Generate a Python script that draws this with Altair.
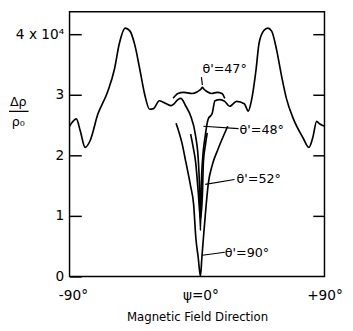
import altair as alt
import pandas as pd

# theta'=48 curve: full sweep -90..+90 that dips sharply at psi=0
c48_psi = [-92.4, -87.6, -84.8, -81.4, -77.9, -72.4, -65.5, -60.7, -57.2, -53.1, -49.7, -46.2,
           -42.8, -39.3, -35.9, -33.1, -29.0, -24.1, -20.7, -18.6, -15.9, -13.8, -10.3, -6.9,
           -3.4, -1.4, -0.7, 0.0, 0.7, 1.4, 3.4, 5.5, 8.3, 10.3, 13.8, 17.2, 20.7, 25.5, 31.0,
           33.8, 35.9, 39.3, 41.4, 44.8, 47.6, 50.3, 53.8, 57.2, 60.7, 65.5, 72.4, 76.6, 79.3,
           82.1, 84.1, 87.6]
c48_val = [2.48, 2.60, 2.40, 2.13, 2.24, 2.68, 3.05, 3.42, 3.85, 4.10, 4.05, 3.81,
           3.42, 3.00, 2.76, 2.77, 2.90, 2.85, 2.82, 2.85, 2.92, 2.94, 2.81, 2.65,
           2.32, 1.89, 1.52, 0.76, 1.56, 1.89, 2.32, 2.60, 2.69, 2.90, 2.92, 2.89, 2.81, 2.89, 2.85,
           2.73, 2.89, 3.42, 3.85, 4.06, 4.10, 4.05, 3.74, 3.32, 2.94, 2.61, 2.29, 2.13, 2.29,
           2.56, 2.52, 2.48]

# theta'=47 centre section (no dip, small cusp)
c47_psi = [-19.3, -15.9, -12.0, -9.0, -6.0, -2.1, 0.3, 1.4, 2.5, 4.8, 8.0, 11.7, 15.2, 17.2]
c47_val = [2.94, 3.02, 3.04, 3.03, 3.02, 3.05, 3.09, 3.12, 3.09, 3.05, 3.02, 3.04, 3.02, 2.94]

# theta'=52 centre section
c52_psi = [-6.9, -5.0, -3.4, -1.4, 0.0, 1.4, 2.1, 3.4, 4.8]
c52_val = [2.35, 2.12, 1.89, 1.35, 0.95, 1.35, 1.89, 2.15, 2.37]

# theta'=90 centre section (goes to zero)
c90_psi = [-17.2, -13.0, -10.3, -7.0, -4.8, -3.2, -1.5, 0.0, 1.0, 2.1, 3.4, 5.5, 8.5, 12.4, 19.3]
c90_val = [2.53, 2.20, 1.89, 1.50, 1.19, 0.63, 0.30, 0.00, 0.30, 0.63, 1.00, 1.52, 1.85, 2.10, 2.48]

# annotation labels and their leader lines
ann_text = ["θ'=47°", "θ'=48°", "θ'=52°", "θ'=90°"]
ann_psi = [1.4, 27.6, 25.5, 17.2]
ann_val = [3.42, 2.42, 1.60, 0.39]
lead_psi1 = [0.7, 2.1, 3.4, 1.4]
lead_val1 = [3.29, 2.48, 1.52, 0.35]
lead_psi2 = [1.4, 26.9, 24.1, 17.2]
lead_val2 = [3.16, 2.44, 1.60, 0.40]

y_ticks = [0, 1, 2, 3, 4]
x_ticks = [-90, 0, 87.6]   # right label sits at the frame edge

rows = []
for name, xs, ys in [("48", c48_psi, c48_val), ("47", c47_psi, c47_val),
                     ("52", c52_psi, c52_val), ("90", c90_psi, c90_val)]:
    for i, (a, b) in enumerate(zip(xs, ys)):
        rows.append({"series": name, "psi": a, "val": b, "i": i})
curves = pd.DataFrame(rows)

ann = pd.DataFrame({"text": ann_text, "psi": ann_psi, "val": ann_val})
leads = pd.DataFrame({"x1": lead_psi1, "y1": lead_val1, "x2": lead_psi2, "y2": lead_val2})

FONT = "DejaVu Sans"
xscale = alt.Scale(domain=[-92.4, 87.6], nice=False, zero=False)
yscale = alt.Scale(domain=[0, 4.37], nice=False, zero=False)

xaxis = alt.Axis(
    values=x_ticks,
    labelExpr="datum.value == 0 ? 'ψ=0°' : (datum.value < 0 ? '-90°' : '+90°')",
    ticks=False, domain=False, grid=False, labelFlush=False, labelOverlap=False,
    labelPadding=13, labelFontSize=14, labelFont=FONT, labelColor="black",
    title="Magnetic Field Direction", titleFontSize=12, titleFont=FONT,
    titleFontWeight="normal", titleColor="black", titleY=41, titleBaseline="middle")

lines = alt.Chart(curves).mark_line(color="black", strokeWidth=1.7, interpolate="monotone").encode(
    x=alt.X("psi:Q", scale=xscale, axis=xaxis),
    y=alt.Y("val:Q", scale=yscale, axis=alt.Axis(
        values=y_ticks,
        labelExpr="datum.value == 4 ? '4 x 10⁴' : datum.label",
        tickSize=12, offset=-12, domain=False, grid=False, tickColor="black", tickWidth=1.5,
        labelPadding=6, labelFontSize=14, labelFont=FONT, labelColor="black",
        title=["Δρ", "ρ₀"], titleAngle=0, titleX=-65, titleY=92,
        titleAlign="center", titleBaseline="middle", titleFontSize=13, titleFont=FONT,
        titleFontWeight="normal", titleColor="black", titleLineHeight=20)),
    detail="series:N",
    order="i:Q",
)

# fraction bar of the y-axis title
frac_bar = alt.Chart(pd.DataFrame({"k": [0]})).mark_rule(color="black", strokeWidth=1.3).encode(
    x=alt.value(-62), x2=alt.value(-42), y=alt.value(102)
)

rules = alt.Chart(leads).mark_rule(color="black", strokeWidth=1.2).encode(
    x=alt.X("x1:Q", scale=xscale, axis=xaxis),
    y=alt.Y("y1:Q", scale=yscale, axis=alt.Axis(
        orient="right", values=[1, 2, 3, 4], labels=False, tickSize=12, offset=-12,
        domain=False, grid=False, tickColor="black", tickWidth=1.5, title=None)),
    x2="x2:Q",
    y2="y2:Q",
)

texts = alt.Chart(ann).mark_text(align="left", baseline="middle", fontSize=13,
                                 font=FONT, color="black").encode(
    x=alt.X("psi:Q", scale=xscale, axis=xaxis),
    y=alt.Y("val:Q", scale=yscale, axis=None),
    text="text:N",
)

chart = alt.layer(lines, rules, texts, frac_bar).resolve_axis(y="independent").properties(
    width=261, height=271,
    autosize=alt.AutoSizeParams(type="none"),
    padding={"left": 63, "top": 0, "right": 21, "bottom": 51},
    background="white",
).configure_view(stroke="black", strokeWidth=1.5)

chart.save("out.html", embed_options={"renderer": "svg", "actions": False})
